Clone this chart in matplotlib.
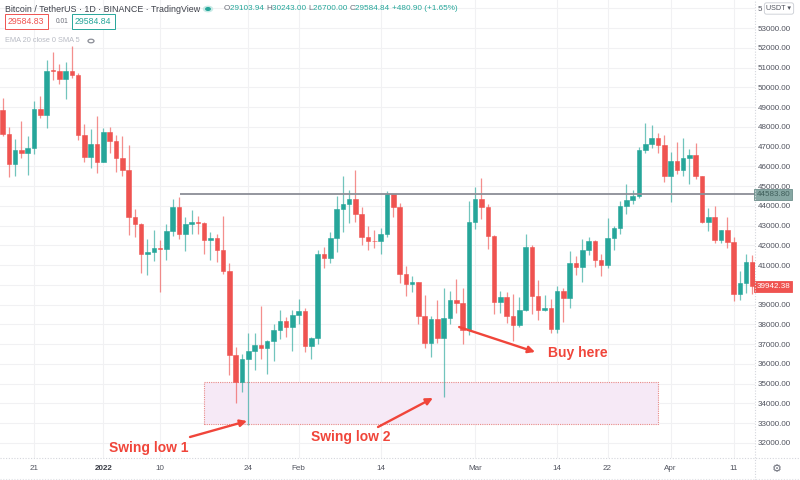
import matplotlib
matplotlib.use("Agg")
import matplotlib.pyplot as plt
import matplotlib.dates as mdates
import numpy as np
import pandas as pd
from matplotlib.patches import Rectangle, Circle

plt.rcParams['font.family'] = ['Liberation Sans', 'DejaVu Sans']

# ---------------- data (BTC/USDT daily, Dec 16 2021 - Apr 14 2022) ----------------
start_date = "2021-12-16"
end_date = "2022-04-14"

opens = [48864, 47632, 46131, 46834, 46681, 46914, 48887, 48588, 50838, 50821, 50429, 50810, 50640, 47588, 46473, 47120,
         46216, 47722, 47286, 46446, 45833, 43451, 43082, 41566, 41679, 41864, 41822, 42735, 43949, 42592, 43099, 43177,
         43114, 42250, 42375, 41744, 40680, 36445, 35071, 36244, 36660, 36958, 36809, 37160, 37716, 38166, 37882,
         38467, 38695, 36896, 37311, 41575, 41382, 42380, 43839, 44118, 44338, 43566, 42407, 42244, 42198, 42586, 44578,
         43961, 40538, 40031, 40122, 38431, 37076, 38286, 37296, 38333, 39214, 39105, 37709,
         43194, 44357, 43925, 42458, 39148, 39404, 38420, 37988, 38731, 41942, 39422, 38730, 38807, 37778, 39672, 39335,
         41118, 40917, 41757, 42201, 41262, 41003, 42365, 42882, 43991, 44313, 44511, 46827, 47123, 47434, 47067,
         45510, 46283, 45811, 46407, 46580, 45497, 43170, 43444, 42252, 42753, 42158, 39530, 40074, 41147]
highs = [49437, 47995, 47392, 48300, 47537, 49328, 49576, 51375, 51810, 51156, 51280, 52088, 50704, 48119, 47900, 48548,
         47954, 47990, 47570, 47510, 47070, 43816, 43145, 42300, 42786, 42248, 43100, 44322, 44456, 43447, 43800, 43475,
         43180, 42663, 42600, 43505, 41100, 36835, 36500, 37550, 37545, 38919, 37234, 38000, 38720, 38359, 38744,
         39265, 38855, 37387, 41772, 41913, 42656, 44500, 45492, 44799, 45821, 43921, 43000, 42760, 42876, 44771, 44578,
         44164, 40959, 40444, 40150, 39494, 38429, 39249, 39843, 39683, 40300, 39844, 44225,
         44949, 45400, 44102, 42527, 39693, 39640, 39547, 39362, 42594, 42039, 40236, 39486, 39310, 39947, 39855, 41720,
         41478, 42325, 42400, 42296, 41544, 43361, 42972, 44220, 45094, 44793, 46999, 48190, 48096, 47700, 47600,
         46720, 47213, 47444, 46890, 47200, 45507, 43900, 43970, 42800, 43410, 42414, 40699, 41561, 41500]
lows = [47511, 45456, 45500, 46406, 45558, 46630, 48422, 47920, 50384, 50142, 49412, 50450, 47313, 46201, 45900, 45678,
        46208, 46654, 45696, 45500, 42500, 42430, 40610, 40501, 41200, 39650, 41269, 42450, 42311, 41725, 42578, 42581,
        41540, 41250, 41138, 40553, 35441, 34009, 34602, 32917, 35701, 36234, 35507, 36155, 37268, 37351, 36632,
        38000, 36586, 36250, 37026, 40843, 41116, 41645, 42666, 43117, 43174, 42000, 41748, 41870, 41570, 42428, 43456,
        40073, 39451, 39640, 38000, 36800, 36350, 37036, 34322, 38014, 38573, 37000, 37450,
        42809, 43333, 41832, 38550, 38588, 38088, 37155, 37867, 38657, 38539, 38224, 38660, 37578, 37555, 38098, 38828,
        40500, 40135, 41499, 40911, 40467, 40875, 41751, 42560, 43579, 44071, 44422, 46663, 46950, 46665, 45200,
        44200, 45620, 45530, 45118, 45353, 43121, 42727, 42107, 42125, 41868, 39200, 39254, 39588, 39551]
closes = [47632, 46131, 46834, 46681, 46914, 48889, 48588, 50838, 50821, 50429, 50809, 50640, 47589, 46464, 47120, 46216,
          47722, 47286, 46446, 45833, 43451, 43082, 41566, 41679, 41864, 41822, 42735, 43949, 42591, 43099, 43177, 43114,
          42250, 42375, 41744, 40680, 36445, 35071, 36244, 36660, 36958, 36809, 37160, 37716, 38166, 37881, 38466,
          38694, 36896, 37311, 41574, 41382, 42380, 43840, 44118, 44338, 43565, 42407, 42244, 42197, 42586, 44575, 43961,
          40538, 40030, 40122, 38431, 37075, 38286, 37296, 38333, 39214, 39105, 37709, 43193,
          44354, 43924, 42454, 39148, 39398, 38420, 37988, 38731, 41942, 39422, 38730, 38808, 37778, 39672, 39338, 41119,
          40917, 41757, 42201, 41262, 41002, 42364, 42882, 43991, 44313, 44511, 46827, 47122, 47434, 47067, 45510,
          46283, 45811, 46407, 46580, 45497, 43170, 43444, 42252, 42753, 42158, 39530, 40074, 41147, 39942]

last_price = 39942.38
level_price = 44583.80
level_label = "44583.80"
level_start = "2022-01-13 05:00"

zone_start = "2022-01-17"
zone_end = "2022-03-30 01:00"
zone_low = 32960
zone_high = 35085

tick_dates = ["2021-12-21", "2022-01-01", "2022-01-10", "2022-01-24", "2022-02-01", "2022-02-14",
              "2022-03-01", "2022-03-14", "2022-03-22", "2022-04-01", "2022-04-11"]
tick_labels = ["21", "2022", "10", "24", "Feb", "14", "Mar", "14", "22", "Apr", "11"]
price_ticks = list(range(32000, 55000, 1000))
# the top label (54000.00) is hidden behind the currency button except its first digit
price_labels = [f"{p:.2f}" for p in price_ticks[:-1]] + ["5"]

# annotations: (text, text position (date, price))
notes = [("Swing low 1", "2022-01-08 03:00", 31745),
         ("Swing low 2", "2022-02-09 05:00", 32302),
         ("Buy here", "2022-03-17 05:00", 36553)]
arrows = [(("2022-01-14 18:00", 32302), ("2022-01-23 19:00", 33111)),
          (("2022-02-13 14:00", 32808), ("2022-02-22 07:00", 34275)),
          (("2022-02-26 11:00", 37868), ("2022-03-10 12:00", 36603))]

GREEN = "#26a69a"
RED = "#ef5350"
ARED = "#f0453a"

# ---------------- figure ----------------
W, H = 800, 480
fig = plt.figure(figsize=(W / 100, H / 100), dpi=100)
ax = fig.add_axes([0, 22 / H, 755 / W, 458 / H])

dates = pd.date_range(start_date, end_date, freq="D")
x = mdates.date2num(dates)
o = np.array(opens, float); h = np.array(highs, float)
l = np.array(lows, float); c = np.array(closes, float)
up = c >= o
cols = np.where(up, GREEN, RED)

ax.vlines(x, l, h, colors=cols, linewidth=0.9, alpha=0.65, zorder=3)
body_bottom = np.minimum(o, c)
body_h = np.maximum(np.abs(c - o), 40)
ax.bar(x, body_h, bottom=body_bottom, width=0.72, color=cols, edgecolor=cols, linewidth=0.4, zorder=4)

x0 = mdates.date2num(pd.Timestamp("2021-12-21"))
ax.set_xlim(x0 - 5.4, x0 + 114.4)
ax.set_ylim(31239, 54417)

# grid
ax.set_yticks(price_ticks)
ax.set_yticklabels(price_labels)
ax.set_xticks(mdates.date2num(pd.to_datetime(tick_dates)))
ax.set_xticklabels(tick_labels)
ax.grid(True, color="#f1f1f3", linewidth=0.8, zorder=0)
ax.set_axisbelow(True)
for s in ax.spines.values():
    s.set_visible(False)
ax.yaxis.tick_right()
ax.tick_params(axis="y", length=0, pad=2, labelsize=5.8, labelcolor="#50535e")
ax.tick_params(axis="x", length=0, pad=5, labelsize=5.8, labelcolor="#50535e")
for lab in ax.get_xticklabels():
    if lab.get_text() == "2022":
        lab.set_fontweight("bold")
        lab.set_color("#3a3d46")

# horizontal level line
ax.hlines(level_price, mdates.date2num(pd.Timestamp(level_start)), ax.get_xlim()[1],
          color="#8b8e96", linewidth=1.3, zorder=5)
ax.text(1.002, level_price, level_label, transform=ax.get_yaxis_transform(), ha="left", va="center",
        fontsize=5.8, color="#3f5e5a", clip_on=False, zorder=10,
        bbox=dict(boxstyle="square,pad=0.25", facecolor="#86a7a3", edgecolor="#6d8f8b", linewidth=0.6))
ax.text(1.002, last_price, f"{last_price:.2f}", transform=ax.get_yaxis_transform(), ha="left", va="center",
        fontsize=5.8, color="white", clip_on=False, zorder=10,
        bbox=dict(boxstyle="square,pad=0.25", facecolor=RED, edgecolor=RED, linewidth=0.6))

# zone rectangle
zx0 = mdates.date2num(pd.Timestamp(zone_start)); zx1 = mdates.date2num(pd.Timestamp(zone_end))
ax.add_patch(Rectangle((zx0, zone_low), zx1 - zx0, zone_high - zone_low, facecolor="#f6e9f6",
                       edgecolor="#e88a88", linewidth=0.8, linestyle=(0, (1, 1)), zorder=1))

# arrows & notes
for (s, e) in arrows:
    sx = mdates.date2num(pd.Timestamp(s[0])); ex = mdates.date2num(pd.Timestamp(e[0]))
    ax.annotate("", xy=(ex, e[1]), xytext=(sx, s[1]),
                arrowprops=dict(arrowstyle="-|>", color=ARED, lw=1.7, mutation_scale=10,
                                shrinkA=0, shrinkB=0), zorder=8)
for t, d, p in notes:
    ax.text(mdates.date2num(pd.Timestamp(d)), p, t, ha="center", va="center", fontsize=10,
            fontweight="bold", color=ARED, zorder=8)

# separators
fig.add_artist(plt.Line2D([755 / W, 755 / W], [0, 1], color="#d4d6dc", linewidth=0.8, linestyle=(0, (1, 1.5))))
fig.add_artist(plt.Line2D([0, 1], [22 / H, 22 / H], color="#d4d6dc", linewidth=0.8, linestyle=(0, (1, 1.5))))
fig.add_artist(plt.Line2D([0, 1], [1.5 / H, 1.5 / H], color="#e0e2e6", linewidth=0.8, linestyle=(0, (1, 1.5))))

# top right currency box
fig.text(779 / W, 1 - 8.5 / H, "USDT ▾", ha="center", va="center", fontsize=5.2, color="#50535e",
         bbox=dict(boxstyle="round,pad=0.3", facecolor="white", edgecolor="#c9ccd3", linewidth=0.6), zorder=20)
fig.text(777 / W, 1 - 469 / H, "⚙", ha="center", va="center", fontsize=8, color="#6a6d78",
         family=["DejaVu Sans"])

# header helpers
renderer = fig.canvas.get_renderer()

def chain(parts, x_px, y_px, size, gap=0.0):
    xx = x_px
    for s, col, extra in parts:
        t = fig.text(xx / W, 1 - y_px / H, s, ha="left", va="center", fontsize=size, color=col,
                     zorder=20, **extra)
        bb = t.get_window_extent(renderer)
        xx = bb.x1 + gap
    return xx

chain([("Bitcoin / TetherUS · 1D · BINANCE · TradingView", "#3f424b", {})], 5, 9, 6.4)
fig.add_artist(Circle((208 / W, 1 - 9 / H), 4.5 / W, transform=fig.transFigure, color="#c9ebe7", zorder=19))
fig.add_artist(Circle((208 / W, 1 - 9 / H), 2.2 / W, transform=fig.transFigure, color=GREEN, zorder=20))
ohlc = [("O", "#6a6d78", {}), ("29103.94 ", GREEN, {}), ("H", "#6a6d78", {}), ("30243.00 ", GREEN, {}),
        ("L", "#6a6d78", {}), ("26700.00 ", GREEN, {}), ("C", "#6a6d78", {}), ("29584.84 ", GREEN, {}),
        ("+480.90 (+1.65%)", GREEN, {})]
chain(ohlc, 224, 9, 5.9)

fig.text(8 / W, 1 - 21.5 / H, "29584.83", ha="left", va="center", fontsize=6.3, color=RED, zorder=20,
         bbox=dict(boxstyle="square,pad=0.35", facecolor="white", edgecolor=RED, linewidth=0.7))
fig.text(56 / W, 1 - 21.5 / H, "0.01", ha="left", va="center", fontsize=4.8, color="#6a6d78", zorder=20)
fig.text(75 / W, 1 - 21.5 / H, "29584.84", ha="left", va="center", fontsize=6.3, color=GREEN, zorder=20,
         bbox=dict(boxstyle="square,pad=0.35", facecolor="white", edgecolor=GREEN, linewidth=0.7))
fig.text(5 / W, 1 - 41 / H, "EMA 20 close 0 SMA 5", ha="left", va="center", fontsize=5.3, color="#b8bbc4", zorder=20)
fig.add_artist(Circle((91 / W, 1 - 41 / H), 3 / W, transform=fig.transFigure, facecolor="none",
                      edgecolor="#8a8d96", linewidth=0.9, zorder=20))

fig.savefig("out.png", dpi=100, facecolor="white")
